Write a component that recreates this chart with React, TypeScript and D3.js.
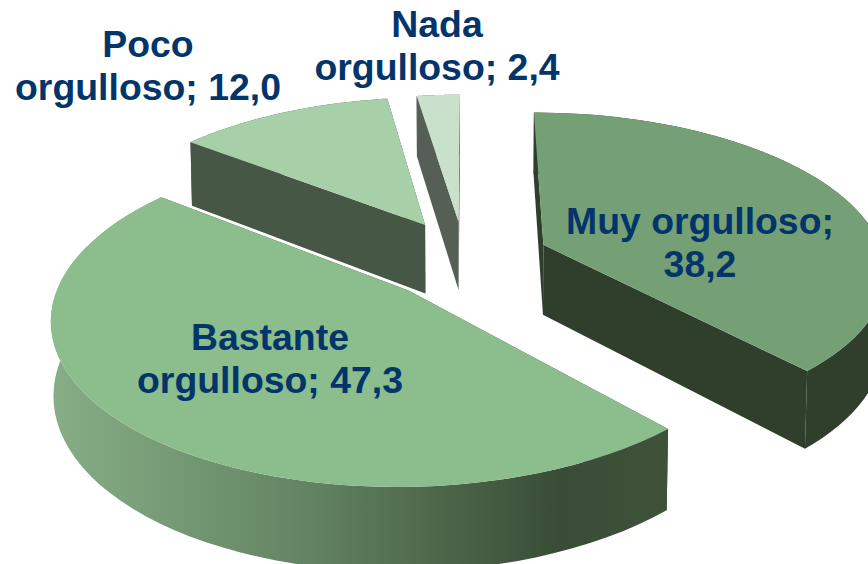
import React from 'react';
import * as d3 from 'd3';

// Pride shares, in drawing order (clockwise from the back of the pie)
const categories = ['Muy orgulloso', 'Bastante orgulloso', 'Poco orgulloso', 'Nada orgulloso'];
const values = [38.2, 47.3, 12.0, 2.4];
const labelLines = [
  ['Muy orgulloso;', '38,2'],
  ['Bastante', 'orgulloso; 47,3'],
  ['Poco', 'orgulloso; 12,0'],
  ['Nada', 'orgulloso; 2,4'],
];
const topColors = ['#75a076', '#8cbd8c', '#a8d0a8', '#c9e1ca'];
const sideColors = ['#303f2c', 'url(#rimBastante)', '#465845', '#555f55'];
// how far each slice is pulled out of the pie, in radius units on the pie plane
const explodeX = [0.218, -0.175, -0.136, -0.035];
const explodeY = [0.066, -0.222, 0.2, 0.224];
const labelAnchors = [[700, 234], [270, 350], [148, 57], [437, 37]];

const width = 868;
const height = 564;

// perspective projection of the pie plane
const cx = 470;
const cy = 255;
const rx = 340;
const ry = 155;
const persp = 0.15;
const depth = 71;
const depthPersp = 0.006;
const startDeg = 0;

type P = [number, number];

const project = (X: number, Y: number, low: boolean): P => {
  const w = 1 + persp * Y + (low ? depthPersp : 0);
  return [cx + (rx * X) / w, cy + (-ry * Y + (low ? depth : 0)) / w];
};

const pieGen = d3
  .pie<number>()
  .sort(null)
  .startAngle((startDeg * Math.PI) / 180)
  .endAngle((startDeg * Math.PI) / 180 + 2 * Math.PI);

const line = d3.line<P>();

const App = () => {
  const arcs = pieGen(values);

  const slices = arcs.map((a, i) => {
    const ox = explodeX[i];
    const oy = explodeY[i];
    const steps = d3.range(0, 61).map((k) => a.startAngle + ((a.endAngle - a.startAngle) * k) / 60);
    const rim = (low: boolean) => steps.map((t) => project(ox + Math.sin(t), oy + Math.cos(t), low));
    const apexTop = project(ox, oy, false);
    const apexLow = project(ox, oy, true);
    const rimTop = rim(false);
    const rimLow = rim(true);
    return {
      top: line([apexTop, ...rimTop])! + 'Z',
      cutA: line([apexTop, rimTop[0], rimLow[0], apexLow])! + 'Z',
      cutB: line([apexTop, rimTop[60], rimLow[60], apexLow])! + 'Z',
      wall: line([...rimTop, ...rimLow.slice().reverse()])! + 'Z',
    };
  });

  return (
    <svg
      width={width}
      height={height}
      viewBox={`0 0 ${width} ${height}`}
      style={{ position: 'fixed', left: 0, top: 0, background: '#fff' }}
    >
      <defs>
        <linearGradient id="rimBastante" gradientUnits="userSpaceOnUse" x1={55} y1={0} x2={665} y2={0}>
          <stop offset="0" stopColor="#86ad85" />
          <stop offset="0.4" stopColor="#648563" />
          <stop offset="0.83" stopColor="#394c36" />
          <stop offset="1" stopColor="#3f5239" />
        </linearGradient>
      </defs>
      {slices.map((s, i) => (
        <g key={categories[i]}>
          <path d={s.cutA} fill={sideColors[i].startsWith('url') ? '#3f5239' : sideColors[i]} />
          <path d={s.cutB} fill={sideColors[i].startsWith('url') ? '#3f5239' : sideColors[i]} />
          <path d={s.wall} fill={sideColors[i]} />
          <path d={s.top} fill={topColors[i]} />
        </g>
      ))}
      {labelLines.map((lines, i) => (
        <text
          key={categories[i]}
          x={labelAnchors[i][0]}
          y={labelAnchors[i][1]}
          textAnchor="middle"
          fontFamily="'Liberation Sans', Arial, sans-serif"
          fontWeight="bold"
          fontSize={37.4}
          fill="#03356b"
        >
          {lines.map((t, k) => (
            <tspan key={k} x={labelAnchors[i][0]} dy={k === 0 ? 0 : 43}>
              {t}
            </tspan>
          ))}
        </text>
      ))}
    </svg>
  );
};

export default App;
